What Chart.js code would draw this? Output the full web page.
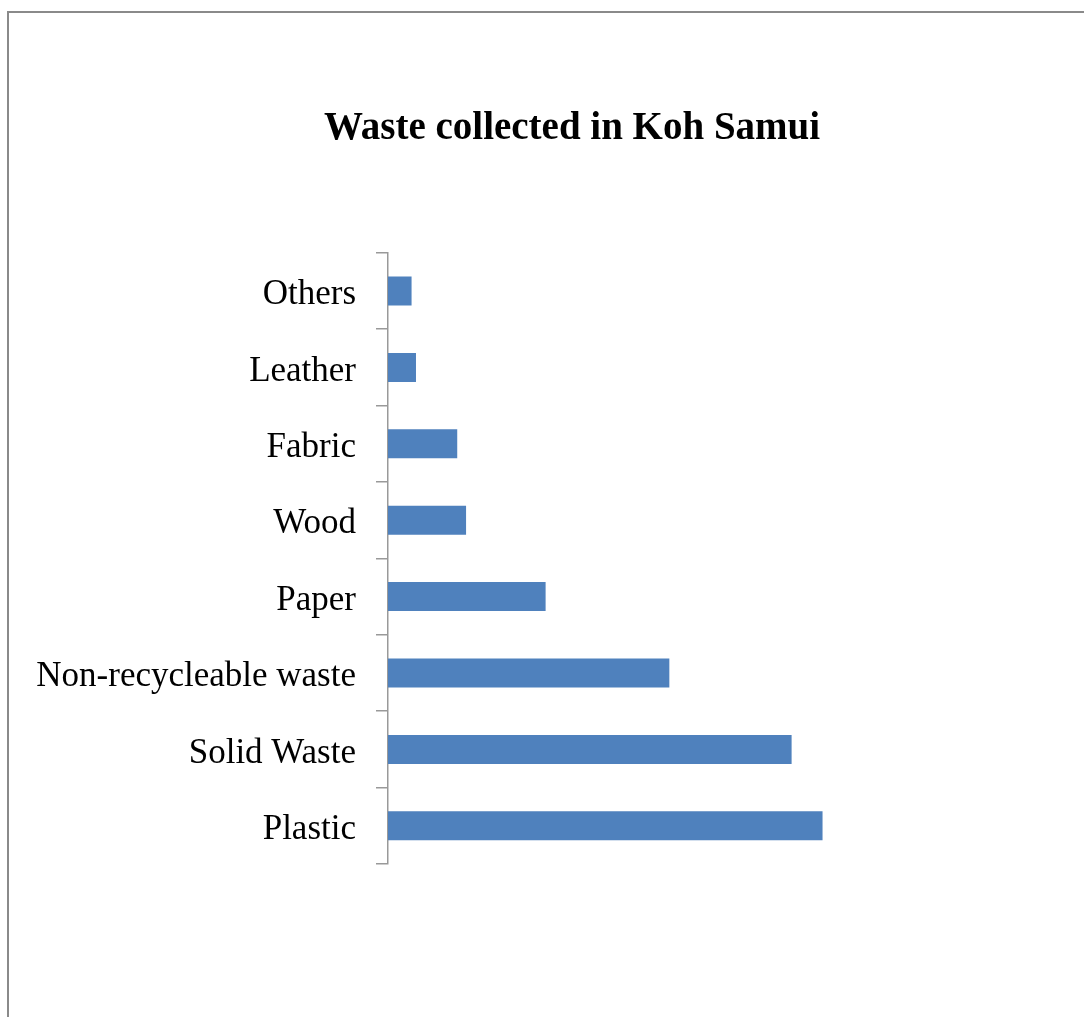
<!DOCTYPE html>
<html>
<head>
<meta charset="utf-8">
<script src="https://cdn.jsdelivr.net/npm/chart.js@4/dist/chart.umd.min.js"></script>
<style>
  html, body { margin: 0; padding: 0; background: #fff; overflow: hidden; }
  #wrap { position: relative; width: 1084px; height: 1017px; }
  #frame {
    position: absolute; left: 7px; top: 11px; width: 1200px; height: 1200px;
    border-left: 2px solid #8a8a8a; border-top: 2px solid #8a8a8a;
    pointer-events: none;
  }
  canvas { position: absolute; left: 0; top: 0; }
</style>
</head>
<body>
<div id="wrap">
  <canvas id="chart" width="1084" height="1017"></canvas>
  <div id="frame"></div>
</div>
<script>
const categories = ['Others', 'Leather', 'Fabric', 'Wood', 'Paper', 'Non-recycleable waste', 'Solid Waste', 'Plastic']
// share of collected waste (%)
const shares = [1.6, 1.9, 4.7, 5.3, 10.7, 19.1, 27.4, 29.5]

const serif = "'Liberation Serif', 'Times New Roman', serif"

// the original title sits a bit right of the canvas centre
const shiftTitle = {
  id: 'shiftTitle',
  afterLayout(chart) {
    if (chart.titleBlock) chart.titleBlock.left = 60
  }
}

new Chart(document.getElementById('chart').getContext('2d'), {
  type: 'bar',
  data: {
    labels: categories,
    datasets: [{
      label: 'Waste',
      data: shares,
      backgroundColor: '#4F81BD',
      borderWidth: 0,
      barPercentage: 0.38,
      categoryPercentage: 1,
    }]
  },
  options: {
    responsive: false,
    animation: false,
    indexAxis: 'y',
    layout: { padding: { top: 0, right: 0, bottom: 153, left: 0 } },
    plugins: {
      legend: { display: false },
      tooltip: { enabled: false },
      title: {
        display: true,
        text: 'Waste collected in Koh Samui',
        color: '#000',
        font: { family: serif, size: 39, weight: 'bold' },
        padding: { top: 106, bottom: 100 },
      },
    },
    scales: {
      x: { display: false, min: 0, max: 47.25 },
      y: {
        afterFit(scale) { scale.width = 388 },
        border: { display: true, color: '#999', width: 1.5 },
        grid: { drawOnChartArea: false, drawTicks: true, tickLength: 12, color: '#999', lineWidth: 1.5 },
        ticks: { color: '#000', padding: 20, labelOffset: 4, font: { family: serif, size: 35 } },
      },
    },
  },
  plugins: [shiftTitle],
})
</script>
</body>
</html>
